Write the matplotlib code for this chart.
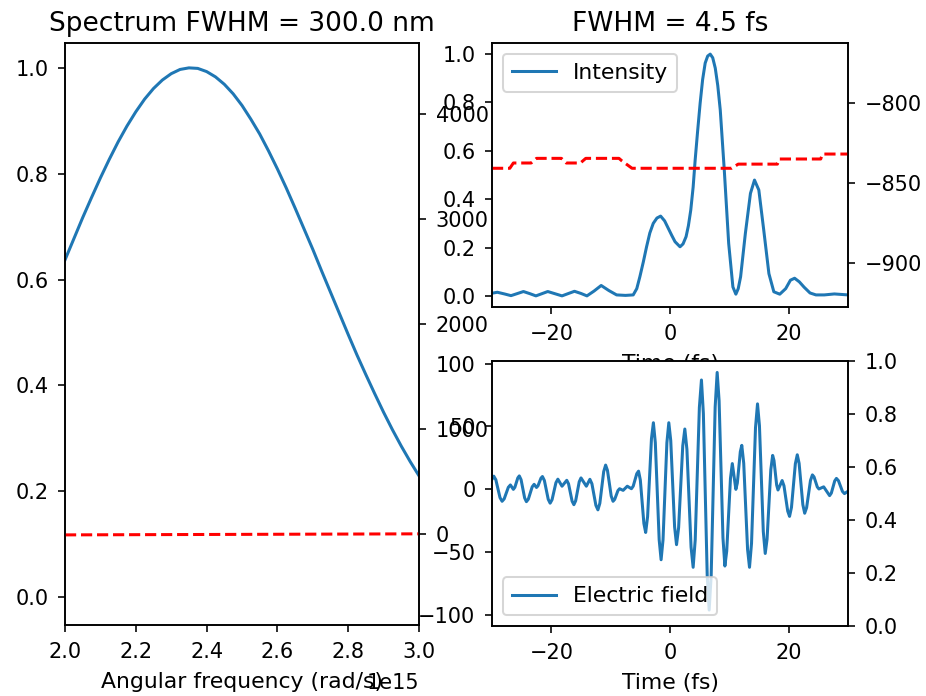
import matplotlib
matplotlib.use('Agg')
import matplotlib.pyplot as plt

plt.rcParams['font.size'] = 10.9
plt.rcParams['xtick.labelsize'] = 10.4
plt.rcParams['ytick.labelsize'] = 10.4
plt.rcParams['xtick.major.pad'] = 4.7
plt.rcParams['ytick.major.pad'] = 4.7
plt.rcParams['axes.labelpad'] = 5.0

# spectrum (left panel), omega in units of 1e15 rad/s
omega = [2.000, 2.025, 2.050, 2.075, 2.100, 2.125, 2.150, 2.175, 2.200, 2.225, 2.250,
         2.275, 2.300, 2.325, 2.350, 2.375, 2.400, 2.425, 2.450, 2.475, 2.500,
         2.525, 2.550, 2.575, 2.600, 2.625, 2.650, 2.675, 2.700, 2.725, 2.750,
         2.775, 2.800, 2.825, 2.850, 2.875, 2.900, 2.925, 2.950, 2.975, 3.000]
spectrum = [0.637, 0.677, 0.717, 0.755, 0.792, 0.827, 0.860, 0.890, 0.917, 0.941, 0.961,
            0.977, 0.989, 0.997, 1.000, 0.999, 0.993, 0.983, 0.969, 0.951, 0.929,
            0.903, 0.875, 0.843, 0.809, 0.773, 0.735, 0.696, 0.657, 0.616, 0.576,
            0.536, 0.496, 0.457, 0.420, 0.384, 0.349, 0.316, 0.285, 0.256, 0.229]
phase_omega = [2.0, 2.5, 3.0]
spectral_phase = [-8, -3, 2]

# intensity (top right)
t_int = [-30, -29.1, -27.9, -26.8, -25.8, -24.7, -23.6, -22.6, -21.6, -20.6, -19.4,
         -18.2, -17.1, -16.1, -15.0, -14.0, -12.8, -11.6, -10.3, -9.0, -7.5, -6.2,
         -5.6, -5.08, -4.5, -3.95, -3.4, -2.82, -2.2, -1.58, -0.9, -0.28, 0.3, 0.85,
         1.69, 2.2, 2.71, 3.1, 3.5, 3.9, 4.24, 4.65, 5.08, 5.5, 5.93, 6.35, 6.78, 7.2,
         7.63, 8.05, 8.47, 9.15, 9.89, 10.6, 11.1, 11.5, 11.9, 12.7, 13.56, 14.24,
         14.97, 15.8, 16.67, 17.5, 18.5, 19.5, 20.3, 21.0, 21.8, 22.6, 23.6, 24.6,
         26.0, 27.7, 30]
intensity = [0.011, 0.015, 0.008, 0.001, 0.009, 0.018, 0.009, 0.0, 0.009, 0.018, 0.009,
             0.0, 0.01, 0.019, 0.01, 0.0, 0.02, 0.043, 0.022, 0.004, 0.002, 0.004,
             0.03, 0.079, 0.14, 0.203, 0.26, 0.30, 0.322, 0.33, 0.31, 0.279, 0.25, 0.224,
             0.203, 0.215, 0.245, 0.29, 0.355, 0.45, 0.562, 0.68, 0.797, 0.895, 0.963, 0.992, 1.0, 0.985,
             0.942, 0.87, 0.769, 0.52, 0.217, 0.037, 0.007, 0.03, 0.079, 0.258, 0.424, 0.479,
             0.438, 0.272, 0.092, 0.017, 0.007, 0.03, 0.065, 0.073, 0.058, 0.036, 0.012, 0.004,
             0.004, 0.008, 0.004]
t_phase = [-30, -27.0, -26.4, -23.4, -22.5, -18.3, -17.5, -15.1, -14.2, -8.6, -8.1,
           -6.4, 10.4, 11.5, 18.1, 18.4, 25.4, 25.7, 30]
temporal_phase = [-840.6, -840.6, -837.3, -837.3, -834.4, -834.4, -837.3, -837.3, -834.4, -834.4, -836.0,
                  -840.6, -840.6, -838.0, -838.0, -834.8, -834.8, -831.7, -831.7]

# electric field (bottom right)
t_field = [-30.0, -29.7, -29.35, -29.0, -28.65, -28.3, -27.95, -27.6, -27.25, -26.9,
           -26.65, -26.4, -26.15, -25.9, -25.65, -25.4, -25.1, -24.8, -24.5, -24.2,
           -23.875, -23.55, -23.225, -22.9, -22.7, -22.5, -22.25, -22.0, -21.75, -21.5,
           -21.175, -20.85, -20.525, -20.2, -19.875, -19.55, -19.225, -18.9, -18.55, -18.2,
           -17.8, -17.4, -17.1, -16.8, -16.5, -16.2, -15.9, -15.6, -15.3, -15.0,
           -14.55, -14.1, -13.8, -13.5, -13.16, -12.825, -12.49, -12.15, -11.825, -11.5,
           -11.175, -10.85, -10.54, -10.225, -9.91, -9.6, -9.325, -9.05, -8.775, -8.5,
           -8.2, -7.9, -7.55, -7.2, -6.85, -6.5, -6.2, -5.9, -5.6, -5.3,
           -5.0, -4.7, -4.4, -4.1, -3.775, -3.45, -3.125, -2.8, -2.475, -2.15,
           -1.825, -1.5, -1.175, -0.85, -0.525, -0.2, 0.125, 0.45, 0.775, 1.1,
           1.45, 1.8, 2.15, 2.5, 2.85, 3.2, 3.55, 3.9, 4.25, 4.6,
           4.95, 5.3, 5.625, 5.95, 6.275, 6.6, 6.94, 7.275, 7.61, 7.95,
           8.275, 8.6, 8.925, 9.25, 9.56, 9.875, 10.19, 10.5, 10.8, 11.1,
           11.35, 11.6, 11.85, 12.1, 12.425, 12.75, 13.075, 13.4, 13.74, 14.075,
           14.41, 14.75, 15.075, 15.4, 15.725, 16.05, 16.36, 16.675, 16.99, 17.3,
           17.525, 17.75, 17.975, 18.2, 18.55, 18.9, 19.21, 19.525, 19.84, 20.15,
           20.475, 20.8, 21.125, 21.45, 21.76, 22.075, 22.39, 22.7, 23.025, 23.35,
           23.675, 24.0, 24.275, 24.55, 24.825, 25.1, 25.5, 25.9, 26.4, 26.9,
           27.19, 27.475, 27.76, 28.05, 28.39, 28.725, 29.06, 29.4, 30.0]
field = [8.0, 10.5, 7.6, 0.5, -6.6, -9.5, -7.6, -3.0, 1.6, 3.5,
         1.8, 0.0, 1.6, 5.35, 9.1, 10.7, 7.7, 0.45, -6.8, -9.8,
         -7.8, -2.9, 2.0, 4.0, 2.75, 1.5, 2.8, 5.85, 8.9, 10.2,
         7.1, -0.4, -7.9, -11.0, -8.2, -1.45, 5.3, 8.1, 5.3, 2.5,
         4.85, 7.2, 4.4, -2.5, -9.4, -12.2, -9.1, -1.55, 6.0, 9.1,
         5.8, 2.5, 5.25, 8.0, 4.45, -4.15, -12.75, -16.3, -11.1, 1.5,
         14.1, 19.3, 15.1, 4.9, -5.3, -9.5, -8.0, -4.5, -1.0, 0.5,
         -0.15, -0.8, 0.85, 2.5, 1.5, 0.5, 2.55, 7.5, 12.45, 14.5,
         7.4, -9.9, -27.2, -34.3, -21.6, 9.35, 40.3, 53.0, 37.1, -1.5,
         -40.1, -56.0, -40.1, -1.5, 37.1, 53.0, 38.8, 4.5, -29.8, -44.0,
         -30.6, 2.0, 34.6, 48.0, 31.9, -7.0, -45.9, -62.0, -40.2, 12.5,
         65.2, 87.0, 60.3, -4.5, -69.3, -96.0, -68.4, -1.5, 65.4, 93.0,
         70.5, 16.0, -38.5, -61.0, -49.1, -20.25, 8.6, 20.5, 10.25, 0.0,
         5.1, 17.5, 29.9, 35.0, 20.8, -13.5, -47.8, -62.0, -43.0, 3.0,
         49.0, 68.0, 50.6, 8.5, -33.6, -51.0, -39.6, -12.0, 15.6, 27.0,
         23.0, 13.25, 3.5, -0.5, 3.25, 7.0, 2.8, -7.25, -17.3, -21.5,
         -14.3, 3.0, 20.3, 27.5, 20.7, 4.25, -12.2, -19.0, -14.55, -3.75,
         7.05, 11.5, 9.9, 5.9, 1.9, 0.3, 1.15, 2.0, -1.5, -5.0,
         -3.0, 1.85, 6.7, 8.7, 6.9, 2.65, -1.6, -3.4, -1.5]

fig = plt.figure(figsize=(926 / 145, 696 / 145), dpi=145)
W, H = 926.0, 696.0

# left: spectrum
ax1 = fig.add_axes([65 / W, 1 - 625 / H, (419 - 65) / W, (625 - 43) / H])
ax1.plot([w * 1e15 for w in omega], spectrum)
ax1.set_xlim(2.0e15, 3.0e15)
ax1.set_ylim(-0.053, 1.047)
ax1.set_xlabel('Angular frequency (rad/s)')
ax1.set_title('Spectrum FWHM = 300.0 nm')
ax1.xaxis.OFFSETTEXTPAD = 5.5  # sits on the label's line, as in the original
ax1b = ax1.twinx()
ax1b.plot([w * 1e15 for w in phase_omega], spectral_phase, 'r--')
ax1b.set_ylim(-867, 4681)

# top right: intensity
ax2 = fig.add_axes([492 / W, 1 - 307 / H, (848 - 492) / W, (307 - 43) / H])
ax2.plot(t_int, intensity, label='Intensity')
ax2.set_xlim(-30, 30)
ax2.set_ylim(-0.046, 1.046)
ax2.set_xlabel('Time (fs)')
ax2.set_title('FWHM = 4.5 fs')
ax2.legend(loc='upper left')
ax2b = ax2.twinx()
ax2b.plot(t_phase, temporal_phase, 'r--')
ax2b.set_ylim(-927.3, -762.3)

# bottom right: electric field
ax3 = fig.add_axes([492 / W, 1 - 626 / H, (848 - 492) / W, (626 - 361) / H])
ax3.plot(t_field, field, label='Electric field')
ax3.set_xlim(-30, 30)
ax3.set_ylim(-108.7, 102.1)
ax3.set_xlabel('Time (fs)')
ax3.legend(loc='lower left')
ax3b = ax3.twinx()

fig.savefig('out.png', dpi=145)
